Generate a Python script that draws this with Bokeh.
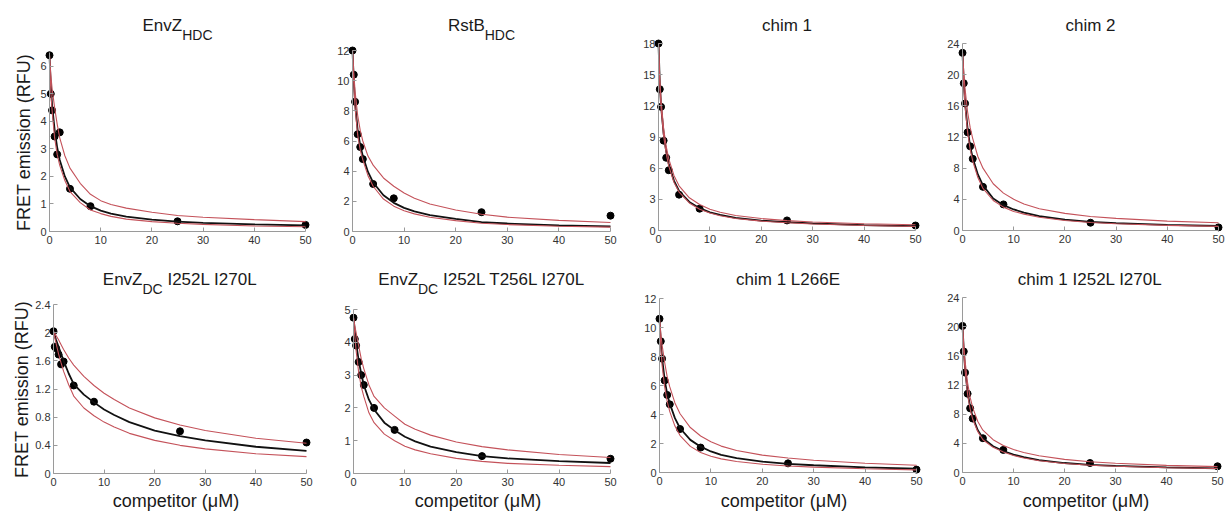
import math
from bokeh.plotting import figure
from bokeh.layouts import row, column
from bokeh.models import Range1d, FixedTicker, Label
from bokeh.embed import file_html
from bokeh.resources import INLINE

# ---------------- data ----------------
conc = [0, 0.25, 0.5, 1, 1.5, 2, 4, 8, 25, 50]                      # competitor (uM) of measured points
fit_x = [0, 0.25, 0.5, 1, 1.5, 2, 3, 4, 6, 8, 10, 12, 15, 20, 25, 30, 40, 50]
x_ticks = [0, 10, 20, 30, 40, 50]

# EnvZ_HDC
envz_hdc_pts = [6.4, 5.0, 4.4, 3.45, 2.8, 3.6, 1.55, 0.92, 0.37, 0.24]
envz_hdc_fit = [6.4, 5.3, 4.6, 3.7, 3.05, 2.6, 2.0, 1.6, 1.18, 0.92, 0.76, 0.65, 0.54, 0.43, 0.36, 0.31, 0.26, 0.22]
envz_hdc_hi = [6.4, 5.7, 5.2, 4.5, 3.9, 3.4, 2.75, 2.3, 1.75, 1.35, 1.12, 0.98, 0.85, 0.70, 0.58, 0.52, 0.43, 0.36]
envz_hdc_lo = [6.4, 5.1, 4.4, 3.4, 2.8, 2.4, 1.85, 1.45, 1.05, 0.78, 0.65, 0.55, 0.45, 0.36, 0.30, 0.26, 0.20, 0.17]
envz_hdc_yticks = [0, 1, 2, 3, 4, 5, 6]
envz_hdc_ylabels = ["0", "1", "2", "3", "4", "5", "6"]

# RstB_HDC
rstb_hdc_pts = [12.0, 10.4, 8.6, 6.45, 5.6, 4.8, 3.15, 2.2, 1.28, 1.05]
rstb_hdc_fit = [12.0, 10.0, 8.5, 6.7, 5.7, 5.0, 3.95, 3.25, 2.4, 1.9, 1.57, 1.33, 1.09, 0.83, 0.62, 0.53, 0.41, 0.34]
rstb_hdc_hi = [12.0, 10.5, 9.3, 7.7, 6.7, 6.0, 5.0, 4.4, 3.55, 3.0, 2.55, 2.2, 1.82, 1.42, 1.14, 0.95, 0.74, 0.6]
rstb_hdc_lo = [12.0, 9.8, 8.2, 6.4, 5.4, 4.75, 3.7, 3.0, 2.15, 1.68, 1.38, 1.17, 0.95, 0.72, 0.55, 0.46, 0.35, 0.29]
rstb_hdc_yticks = [0, 2, 4, 6, 8, 10, 12]
rstb_hdc_ylabels = ["0", "2", "4", "6", "8", "10", "12"]

# chim 1
chim1_pts = [18.0, 13.6, 11.9, 8.65, 7.0, 5.8, 3.45, 2.1, 0.97, 0.48]
chim1_fit = [18.0, 14.2, 12.0, 9.3, 7.6, 6.4, 4.8, 3.8, 2.75, 2.15, 1.75, 1.5, 1.22, 0.95, 0.8, 0.68, 0.52, 0.42]
chim1_hi = [18.0, 14.6, 12.5, 9.8, 8.1, 6.9, 5.3, 4.3, 3.15, 2.5, 2.05, 1.75, 1.45, 1.15, 0.95, 0.82, 0.65, 0.55]
chim1_lo = [18.0, 14.0, 11.8, 9.1, 7.4, 6.2, 4.65, 3.7, 2.65, 2.05, 1.68, 1.42, 1.16, 0.9, 0.75, 0.63, 0.48, 0.39]
chim1_yticks = [0, 3, 6, 9, 12, 15, 18]
chim1_ylabels = ["0", "3", "6", "9", "12", "15", "18"]

# chim 2
chim2_pts = [22.8, 18.9, 16.3, 12.6, 10.8, 9.2, 5.6, 3.35, 1.0, 0.4]
chim2_fit = [22.8, 19.0, 16.4, 13.0, 10.8, 9.3, 7.2, 5.8, 4.1, 3.25, 2.7, 2.3, 1.85, 1.4, 1.1, 0.95, 0.72, 0.58]
chim2_hi = [22.8, 20.2, 18.2, 15.2, 13.2, 11.8, 9.5, 8.0, 6.0, 4.8, 4.0, 3.4, 2.8, 2.2, 1.8, 1.55, 1.2, 1.0]
chim2_lo = [22.8, 18.7, 16.0, 12.6, 10.4, 8.9, 6.8, 5.4, 3.85, 3.0, 2.45, 2.1, 1.7, 1.28, 1.02, 0.86, 0.66, 0.53]
chim2_yticks = [0, 4, 8, 12, 16, 20, 24]
chim2_ylabels = ["0", "4", "8", "12", "16", "20", "24"]

# EnvZ_DC I252L I270L
envz_dc2_pts = [2.02, 1.80, 1.78, 1.69, 1.55, 1.59, 1.25, 1.02, 0.60, 0.44]
envz_dc2_fit = [2.02, 1.96, 1.90, 1.80, 1.70, 1.60, 1.42, 1.27, 1.12, 1.01, 0.91, 0.83, 0.73, 0.61, 0.53, 0.47, 0.38, 0.32]
envz_dc2_hi = [2.02, 1.99, 1.96, 1.90, 1.83, 1.76, 1.64, 1.54, 1.38, 1.25, 1.14, 1.05, 0.93, 0.79, 0.69, 0.61, 0.50, 0.43]
envz_dc2_lo = [2.02, 1.93, 1.85, 1.70, 1.57, 1.45, 1.26, 1.10, 0.93, 0.82, 0.73, 0.66, 0.57, 0.47, 0.40, 0.35, 0.28, 0.24]
envz_dc2_yticks = [0, 0.4, 0.8, 1.2, 1.6, 2, 2.4]
envz_dc2_ylabels = ["0", "0.4", "0.8", "1.2", "1.6", "2", "2.4"]

# EnvZ_DC I252L T256L I270L
envz_dc3_pts = [4.75, 4.1, 3.9, 3.4, 3.0, 2.7, 2.0, 1.33, 0.53, 0.45]
envz_dc3_fit = [4.75, 4.35, 4.0, 3.45, 3.05, 2.7, 2.25, 1.95, 1.55, 1.32, 1.12, 0.98, 0.82, 0.65, 0.53, 0.46, 0.38, 0.32]
envz_dc3_hi = [4.75, 4.5, 4.3, 3.9, 3.5, 3.2, 2.7, 2.35, 2.0, 1.75, 1.5, 1.35, 1.17, 0.96, 0.82, 0.72, 0.58, 0.49]
envz_dc3_lo = [4.75, 4.2, 3.75, 3.1, 2.65, 2.35, 1.85, 1.55, 1.2, 1.0, 0.83, 0.72, 0.6, 0.46, 0.37, 0.31, 0.25, 0.21]
envz_dc3_yticks = [0, 1, 2, 3, 4, 5]
envz_dc3_ylabels = ["0", "1", "2", "3", "4", "5"]

# chim 1 L266E
chim1_l266e_pts = [10.6, 9.05, 7.85, 6.35, 5.35, 4.7, 3.0, 1.72, 0.63, 0.2]
chim1_l266e_fit = [10.6, 9.0, 7.9, 6.4, 5.4, 4.75, 3.75, 3.05, 2.25, 1.78, 1.45, 1.22, 0.99, 0.75, 0.6, 0.5, 0.36, 0.26]
chim1_l266e_hi = [10.6, 9.6, 8.8, 7.6, 6.6, 5.9, 4.8, 4.05, 3.1, 2.52, 2.12, 1.82, 1.52, 1.2, 1.0, 0.85, 0.64, 0.5]
chim1_l266e_lo = [10.6, 8.7, 7.4, 5.9, 4.9, 4.2, 3.2, 2.55, 1.8, 1.38, 1.12, 0.94, 0.76, 0.57, 0.45, 0.37, 0.26, 0.18]
chim1_l266e_yticks = [0, 2, 4, 6, 8, 10, 12]
chim1_l266e_ylabels = ["0", "2", "4", "6", "8", "10", "12"]

# chim 1 I252L I270L
chim1_ii_pts = [20.1, 16.6, 13.7, 10.8, 8.8, 7.4, 4.7, 3.1, 1.3, 0.85]
chim1_ii_fit = [20.1, 16.8, 14.3, 11.0, 9.0, 7.6, 5.8, 4.7, 3.6, 2.95, 2.45, 2.1, 1.7, 1.3, 1.05, 0.9, 0.7, 0.57]
chim1_ii_hi = [20.1, 17.4, 15.3, 12.3, 10.3, 8.9, 7.0, 5.8, 4.5, 3.7, 3.15, 2.75, 2.3, 1.8, 1.48, 1.27, 0.98, 0.8]
chim1_ii_lo = [20.1, 16.6, 14.0, 10.7, 8.7, 7.3, 5.6, 4.5, 3.45, 2.8, 2.33, 2.0, 1.62, 1.23, 1.0, 0.85, 0.66, 0.54]
chim1_ii_yticks = [0, 4, 8, 12, 16, 20, 24]
chim1_ii_ylabels = ["0", "4", "8", "12", "16", "20", "24"]

# titles: (text, is_subscript)
titles = [
    [("EnvZ", False), ("HDC", True)],
    [("RstB", False), ("HDC", True)],
    [("chim 1", False)],
    [("chim 2", False)],
    [("EnvZ", False), ("DC", True), (" I252L I270L", False)],
    [("EnvZ", False), ("DC", True), (" I252L T256L I270L", False)],
    [("chim 1 L266E", False)],
    [("chim 1 I252L I270L", False)],
]
y_max = [6.5, 12, 18, 24, 2.4, 5, 12, 24]
y_title = "FRET emission (RFU)"
x_title = "competitor (\u03bcM)"

# ---------------- styling / layout (pixels in the page) ----------------
FONT = "Liberation Sans"
BLACK_LINE = "#111111"
RED_LINE = "#c4525a"
AXIS_COL = "#9a9a9a"
TICK_TXT = "#333333"
TXT = "#1a1a1a"

COL_EDGES = [0, 320, 630, 935, 1227]
ROW_EDGES = [0, 255, 511]
X0 = [[49, 352, 658, 962], [53, 353, 659, 962]]      # where x = 0 lands
X50 = [[305, 610, 915, 1218], [306, 610, 916, 1217]]  # where x = 50 lands
Y0 = [[231, 231, 230, 230], [473, 473, 472, 472]]     # where y = 0 lands
YT = [[52, 50, 43, 43], [304, 309, 298, 297]]         # where y = y_max lands
TITLE_Y = [25, 279]
SUB_DROP = 9
YLAB_POS = [(23, 142), (21, 389)]
XLAB_Y = 500

ARIAL_W = {'E': 667, 'n': 556, 'v': 500, 'Z': 611, 'H': 722, 'D': 722, 'C': 722, 'R': 722,
           's': 500, 't': 278, 'B': 667, 'c': 500, 'h': 556, 'i': 222, 'm': 833, ' ': 278,
           'L': 556, 'I': 278, 'T': 611}


def text_w(s, size):
    return sum(ARIAL_W.get(ch, 556) for ch in s) * size / 1000.0


def make_panel(idx, pts, fit, hi, lo, yticks, ylabels):
    r, c = divmod(idx, 4)
    ymax = y_max[idx]
    fl, fr = COL_EDGES[c], COL_EDGES[c + 1]
    ft, fb = ROW_EDGES[r], ROW_EDGES[r + 1]
    x0, x50, y0, yt = X0[r][c], X50[r][c], Y0[r][c], YT[r][c]
    sx = 50.0 / (x50 - x0)
    sy = ymax / float(y0 - yt)

    def dx(px):
        return (px - x0) * sx

    def dy(py):
        return (y0 - py) * sy

    p = figure(width=fr - fl, height=fb - ft,
               x_range=Range1d(dx(fl), dx(fr)), y_range=Range1d(dy(fb), dy(ft)),
               output_backend="svg", toolbar_location=None,
               min_border_left=0, min_border_right=0, min_border_top=0, min_border_bottom=0)
    p.outline_line_color = None
    p.grid.visible = False
    p.background_fill_color = "white"
    p.border_fill_color = "white"

    for ax in (p.xaxis[0], p.yaxis[0]):
        ax.fixed_location = 0
        ax.axis_line_color = AXIS_COL
        ax.axis_line_width = 1
        ax.major_tick_line_color = AXIS_COL
        ax.major_tick_in = 4
        ax.major_tick_out = 0
        ax.minor_tick_line_color = None
        ax.major_label_text_font = FONT
        ax.major_label_text_font_size = "11px"
        ax.major_label_text_color = TICK_TXT
    p.xaxis.major_label_standoff = 4
    p.yaxis.major_label_standoff = 3
    p.xaxis.bounds = (0, 50)
    p.yaxis.bounds = (0, ymax)
    p.xaxis.ticker = FixedTicker(ticks=x_ticks)
    p.yaxis.ticker = FixedTicker(ticks=yticks)
    p.yaxis.major_label_overrides = {t: l for t, l in zip(yticks, ylabels)}

    p.scatter(conc, pts, size=7, color="black")
    p.line(fit_x, fit, line_color=BLACK_LINE, line_width=1.8)
    p.line(fit_x, hi, line_color=RED_LINE, line_width=1.1)
    p.line(fit_x, lo, line_color=RED_LINE, line_width=1.1)

    # title with subscripts, centred over the axes
    parts = titles[idx]
    sizes = [14 if sub else 17 for _, sub in parts]
    total = sum(text_w(t, s) for (t, _), s in zip(parts, sizes))
    cx = -total / 2.0
    for (t, sub), s in zip(parts, sizes):
        shown = t.lstrip(" ")
        lead = text_w(t[:len(t) - len(shown)], s)
        p.add_layout(Label(x=25, y=dy(TITLE_Y[r] + (SUB_DROP if sub else 0)), x_offset=cx + lead,
                           text=shown, text_font=FONT, text_font_size=f"{s}px", text_color=TXT,
                           text_align="left", text_baseline="middle"))
        cx += text_w(t, s)

    if c == 0:
        lx, ly = YLAB_POS[r]
        p.add_layout(Label(x=dx(lx), y=dy(ly), text=y_title, angle=math.pi / 2,
                           text_font=FONT, text_font_size="18px", text_color=TXT,
                           text_align="center", text_baseline="middle"))
    if r == 1:
        p.add_layout(Label(x=dx((x0 + x50) / 2.0 - 4), y=dy(XLAB_Y), text=x_title,
                           text_font=FONT, text_font_size="18px", text_color=TXT,
                           text_align="center", text_baseline="middle"))
    return p


panels = [
    make_panel(0, envz_hdc_pts, envz_hdc_fit, envz_hdc_hi, envz_hdc_lo, envz_hdc_yticks, envz_hdc_ylabels),
    make_panel(1, rstb_hdc_pts, rstb_hdc_fit, rstb_hdc_hi, rstb_hdc_lo, rstb_hdc_yticks, rstb_hdc_ylabels),
    make_panel(2, chim1_pts, chim1_fit, chim1_hi, chim1_lo, chim1_yticks, chim1_ylabels),
    make_panel(3, chim2_pts, chim2_fit, chim2_hi, chim2_lo, chim2_yticks, chim2_ylabels),
    make_panel(4, envz_dc2_pts, envz_dc2_fit, envz_dc2_hi, envz_dc2_lo, envz_dc2_yticks, envz_dc2_ylabels),
    make_panel(5, envz_dc3_pts, envz_dc3_fit, envz_dc3_hi, envz_dc3_lo, envz_dc3_yticks, envz_dc3_ylabels),
    make_panel(6, chim1_l266e_pts, chim1_l266e_fit, chim1_l266e_hi, chim1_l266e_lo, chim1_l266e_yticks, chim1_l266e_ylabels),
    make_panel(7, chim1_ii_pts, chim1_ii_fit, chim1_ii_hi, chim1_ii_lo, chim1_ii_yticks, chim1_ii_ylabels),
]

layout = column(row(*panels[:4]), row(*panels[4:]))
open("out.html", "w").write(file_html(layout, INLINE))
